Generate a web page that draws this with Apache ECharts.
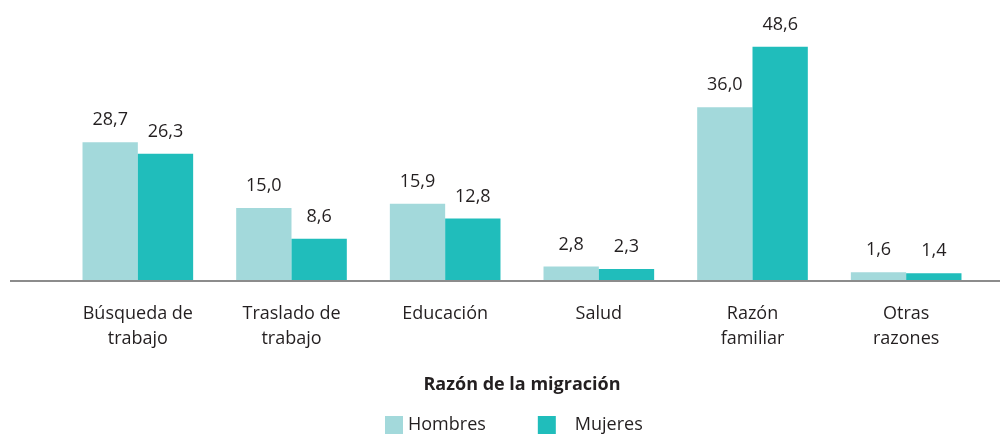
<!DOCTYPE html>
<html><head><meta charset="utf-8">
<script src="https://cdn.jsdelivr.net/npm/echarts@6/dist/echarts.min.js"></script>
<style>html,body{margin:0;padding:0;background:#fff}#c{width:1003px;height:434px}</style>
</head><body><div id="c"></div>
<script>
const categories = ['Búsqueda de\ntrabajo', 'Traslado de\ntrabajo', 'Educación', 'Salud', 'Razón\nfamiliar', 'Otras\nrazones'];
const hombres = [28.7, 15.0, 15.9, 2.8, 36.0, 1.6];
const mujeres = [26.3, 8.6, 12.8, 2.3, 48.6, 1.4];
const seriesNames = ['Hombres', 'Mujeres'];
const axisTitle = 'Razón de la migración';

const FONT = 'Open Sans';
const chart = echarts.init(document.getElementById('c'));
const fmt = p => p.value.toFixed(1).replace('.', ',');
const lbl = {show: true, position: 'top', distance: 13, formatter: fmt, fontFamily: FONT, fontSize: 18, color: '#231f20'};
chart.setOption({
  animation: false,
  textStyle: {fontFamily: FONT},
  grid: {left: 61, right: 20, top: 40, height: 240},
  legend: {
    top: 411, left: 380, itemWidth: 18, itemHeight: 18, itemGap: 52,
    icon: 'rect',
    formatter: n => n === 'Mujeres' ? '   ' + n : n,
    textStyle: {fontFamily: FONT, fontSize: 18, color: '#231f20'},
    data: seriesNames
  },
  xAxis: {
    type: 'category', data: categories,
    axisLine: {show: false}, axisTick: {show: false},
    axisLabel: {fontFamily: FONT, fontSize: 18, color: '#231f20', margin: 21, lineHeight: 25, interval: 0},
    name: axisTitle, nameLocation: 'middle', nameGap: 96,
    nameTextStyle: {fontFamily: FONT, fontSize: 18, fontWeight: 'bold', color: '#231f20'}
  },
  yAxis: {type: 'value', min: 0, max: 50, show: false, splitLine: {show: false}},
  graphic: [{type: 'line', shape: {x1: 10, y1: 281, x2: 1000, y2: 281}, style: {stroke: '#8c8c8c', lineWidth: 2}, z: 10}],
  series: [
    {name: seriesNames[0], type: 'bar', data: hombres, barGap: '0%', barCategoryGap: '28%', itemStyle: {color: '#a3d9db'}, label: lbl},
    {name: seriesNames[1], type: 'bar', data: mujeres, itemStyle: {color: '#20bdbb'}, label: lbl}
  ]
});
</script></body></html>
